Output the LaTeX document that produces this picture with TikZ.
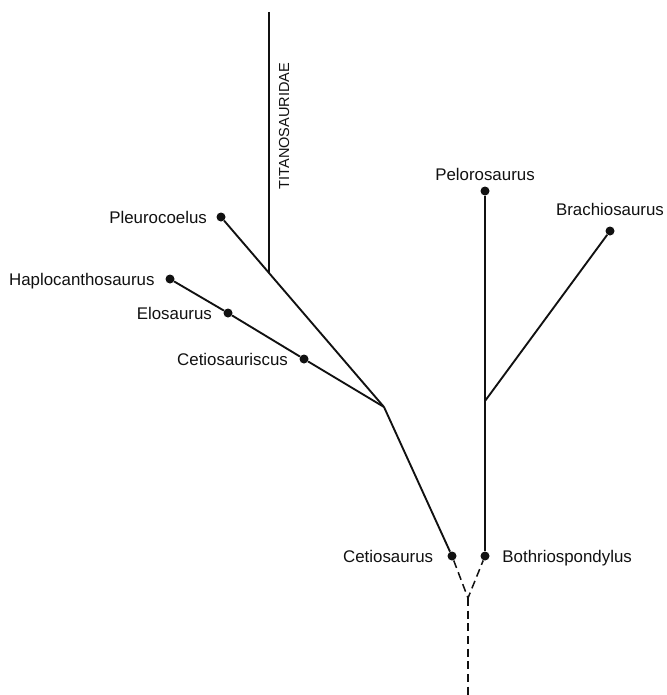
\documentclass[tikz,border=0pt]{standalone}
\usepackage{fontspec}
\setmainfont{Liberation Sans}
\usepackage{xcolor}
\usepackage{tikz}
\usetikzlibrary{calc,positioning}
\definecolor{cInk}{HTML}{111111}
\tikzset{
  taxon/.style={circle, fill=cInk, inner sep=0pt, minimum size=2.7mm},
  nm/.style={font=\fontsize{14.4}{16}\selectfont, text=cInk, inner sep=1pt, text depth=0pt},
  grp/.style={nm, font=\fontsize{12.4}{14}\selectfont, rotate=90},
  br/.style={line width=1.6pt, cInk},
  stem/.style={line width=1.3pt, cInk, dash pattern=on 2.4mm off 1.4mm}
}

\begin{document}
\begin{tikzpicture}[x=0.3mm, y=-0.3mm, node distance=3mm]
\useasboundingbox (0,0) rectangle (666,695);
% taxa
\node[taxon] (pleu) at (221,217) {};
\node[taxon] (hapl) at (170,279) {};
\node[taxon] (elos) at (228,313) {};
\node[taxon] (cetc) at (304,359) {};
\node[taxon] (ceti) at (452,556) {};
\node[taxon] (pelo) at (485,191) {};
\node[taxon] (brac) at (610,231) {};
\node[taxon] (both) at (485,556) {};
% branch points
\coordinate (cjn) at (384,407);
\coordinate (bjn) at (485,401);
\coordinate (root) at (468,598);
\coordinate (base) at (468,695);
\coordinate (titj) at ($(pleu)!0.294!(cjn)$);
\coordinate (titop) at ($(titj)+(0,-261)$);
% names
\node[nm, left=2.4mm of pleu] (pleuL) {Pleurocoelus};
\node[nm, left=2.8mm of hapl] (haplL) {Haplocanthosaurus};
\node[nm, left=3mm of elos] (elosL) {Elosaurus};
\node[nm, left=3mm of cetc] (cetcL) {Cetiosauriscus};
\node[nm, left=3.8mm of ceti] (cetiL) {Cetiosaurus};
\node[nm, right=3.4mm of both] (bothL) {Bothriospondylus};
\node[nm, above=1.4mm of pelo] (peloL) {Pelorosaurus};
\node[nm, above=2.8mm of brac] (bracL) {Brachiosaurus};
\node[grp] (titan) at (284,126) {TITANOSAURIDAE};
% branches
\draw[br] (titop) -- (titj);
\draw[br] (pleu) -- (cjn);
\draw[br] (hapl) -- (elos) -- (cetc) -- (cjn);
\draw[br] (cjn) -- (ceti);
\draw[br] (pelo) -- (both);
\draw[br] (brac) -- (bjn);
\draw[stem] (ceti) -- (root) -- (both);
\draw[stem] (root) -- (base);
\end{tikzpicture}
\end{document}
